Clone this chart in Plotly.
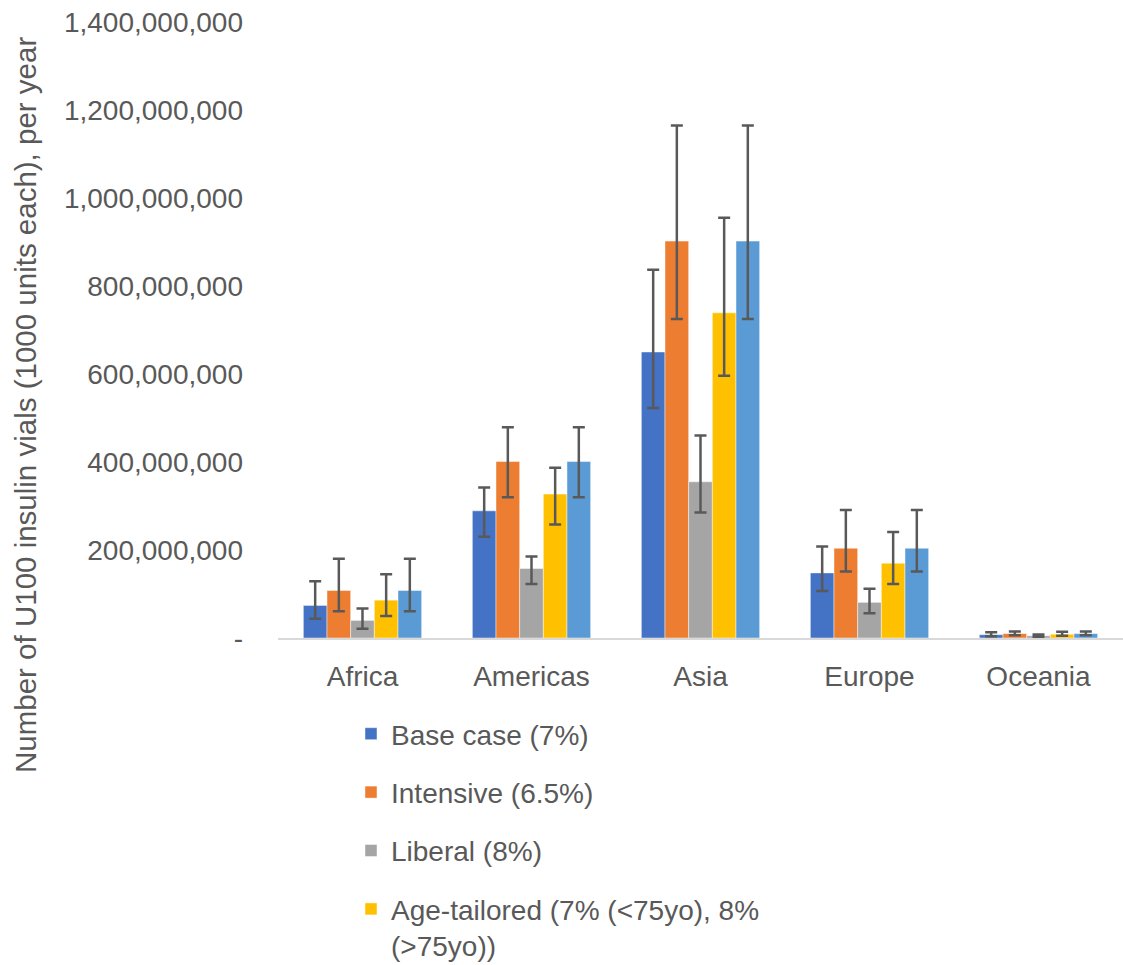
import plotly.graph_objects as go

categories = ["Africa", "Americas", "Asia", "Europe", "Oceania"]

# values in millions of vials
base = [74, 289, 650, 148, 7.5]
base_hi = [129, 342, 837, 208, 13]
base_lo = [44, 230, 523, 107, 4]

intensive = [108, 401, 902, 204, 10]
intensive_hi = [180, 479, 1165, 291, 15]
intensive_lo = [61, 320, 725, 151, 6]

liberal = [40, 158, 355, 81, 5]
liberal_hi = [67, 185, 460, 112, 8]
liberal_lo = [21, 123, 285, 56, 3]

age = [86, 327, 739, 170, 8.5]
age_hi = [145, 387, 955, 241, 14]
age_lo = [50, 258, 596, 123, 5]

fifth = [108, 401, 902, 204, 10]
fifth_hi = [180, 479, 1165, 291, 15]
fifth_lo = [61, 320, 725, 151, 6]

names = ["Base case (7%)", "Intensive (6.5%)", "Liberal (8%)",
         "Age-tailored (7% (<75yo), 8%<br>(>75yo))", "Series 5"]
colors = ["#4472C4", "#ED7D31", "#A5A5A5", "#FFC000", "#5B9BD5"]

tick_vals = [0, 200e6, 400e6, 600e6, 800e6, 1000e6, 1200e6, 1400e6]
tick_text = ["-", "200,000,000", "400,000,000", "600,000,000", "800,000,000",
             "1,000,000,000", "1,200,000,000", "1,400,000,000"]

series = [(base, base_hi, base_lo), (intensive, intensive_hi, intensive_lo),
          (liberal, liberal_hi, liberal_lo), (age, age_hi, age_lo),
          (fifth, fifth_hi, fifth_lo)]

M = 1e6
fig = go.Figure()
for i, (v, hi, lo) in enumerate(series):
    vals = [x * M for x in v]
    plus = [(h - x) * M for h, x in zip(hi, v)]
    minus = [(x - l) * M for l, x in zip(lo, v)]
    fig.add_trace(go.Bar(
        x=categories, y=vals, name=names[i],
        marker=dict(color=colors[i], line=dict(color="rgba(255,255,255,0.45)", width=1)),
        error_y=dict(type="data", symmetric=False, array=plus, arrayminus=minus,
                     color="#595959", thickness=2.5, width=6),
        showlegend=(i < 4), legendgroup=f"g{i}",
    ))

FONT = "Liberation Sans, Arial, sans-serif"
fig.update_layout(
    width=1123, height=965,
    margin=dict(l=278, r=0, t=22, b=327, autoexpand=False),
    plot_bgcolor="white", paper_bgcolor="white",
    barmode="group", bargap=0.3, bargroupgap=0,
    font=dict(family=FONT, size=28, color="#595959"),
    xaxis=dict(showline=True, linecolor="#D9D9D9", linewidth=2, ticks="",
               ticklabelstandoff=12, automargin=False,
               tickfont=dict(size=28, color="#595959"), showgrid=False),
    yaxis=dict(range=[0, 1400e6], tickvals=tick_vals, ticktext=tick_text,
               showgrid=False, zeroline=False, showline=False, ticks="",
               ticklabelstandoff=34, automargin=False,
               tickfont=dict(size=28, color="#595959")),
    legend=dict(x=(351 - 278) / 845, xanchor="left", y=(638 - 709) / 616, yanchor="top",
                font=dict(size=28, color="#595959"), tracegroupgap=19, valign="top",
                bgcolor="rgba(0,0,0,0)"),
    annotations=[dict(
        text="Number of U100 insulin vials (1000 units each), per year",
        xref="paper", yref="paper", x=(25 - 278) / 845, y=(638 - 405) / 616,
        xanchor="center", yanchor="middle", textangle=-90, showarrow=False,
        font=dict(size=29.5, color="#595959", family=FONT))],
)

fig.write_html("out.html", config={"displayModeBar": False},
               post_script="document.body.style.margin='0';document.body.style.overflow='hidden';")
